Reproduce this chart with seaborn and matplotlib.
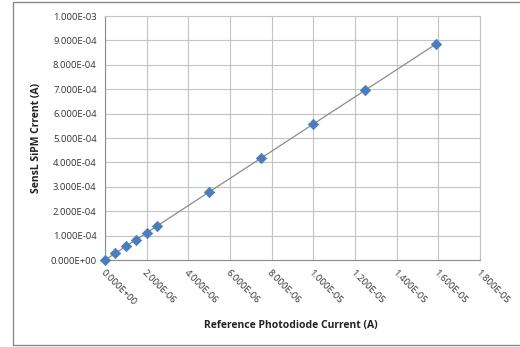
import matplotlib
matplotlib.use("Agg")
import matplotlib.pyplot as plt
import matplotlib.ticker as mticker
from matplotlib.patches import Rectangle
import numpy as np
import pandas as pd
import seaborn as sns

# Photodiode reference current vs. SiPM current (A)
ref_current = [0.0, 0.5e-6, 1.0e-6, 1.5e-6, 2.0e-6, 2.5e-6, 5.0e-6, 7.5e-6, 1.0e-5, 1.25e-5, 1.59e-5]
sipm_current = [0.0, 2.8e-5, 5.6e-5, 8.4e-5, 1.12e-4, 1.4e-4, 2.78e-4, 4.18e-4, 5.57e-4, 6.98e-4, 8.85e-4]

x_ticks = [i * 2e-6 for i in range(10)]
y_ticks = [i * 1e-4 for i in range(11)]

x_label = "Reference Photodiode Current (A)"
y_label = "SensL SiPM Crrent (A)"

df = pd.DataFrame({"ref": ref_current, "sipm": sipm_current})

sns.set_theme(style="white")
plt.rcParams["font.family"] = ["Open Sans", "DejaVu Sans"]

fig = plt.figure(figsize=(5.2, 3.47), dpi=100)
ax = fig.add_axes([105 / 520, 1 - 260 / 347, 375 / 520, 244 / 347])

# linear trendline through the measurements
slope, intercept = np.polyfit(df["ref"], df["sipm"], 1)
xs = np.array([0.0, df["ref"].max()])
ax.plot(xs, slope * xs + intercept, color="#8c8c8c", lw=0.9, zorder=2)

sns.scatterplot(data=df, x="ref", y="sipm", ax=ax, marker="D", s=28,
                color="#4a7ebb", edgecolor="#4a7ebb", linewidth=0.5, zorder=3,
                clip_on=False)

ax.set_xlim(0, 1.8e-5)
ax.set_ylim(0, 1.0e-3)
ax.set_xticks(x_ticks)
ax.set_yticks(y_ticks)
sci = mticker.FuncFormatter(lambda v, p: f"{v:.3E}" if v else "0.000E+00")
ax.xaxis.set_major_formatter(sci)
ax.yaxis.set_major_formatter(sci)

ax.grid(True, color="#c4c4c4", lw=0.8)
ax.set_axisbelow(True)
for s in ax.spines.values():
    s.set_color("#c4c4c4")
    s.set_linewidth(0.8)
ax.spines["left"].set_color("#8c8c8c")
ax.spines["bottom"].set_color("#8c8c8c")

ax.tick_params(axis="both", labelsize=6.8, colors="#333333", pad=3,
               length=3, color="#8c8c8c", direction="out")
for lbl in ax.get_xticklabels():
    lbl.set_rotation(-45)
    lbl.set_ha("left")
    lbl.set_va("top")
    lbl.set_rotation_mode("anchor")

ax.set_xlabel(x_label, fontsize=7.5, fontweight="bold", color="#222222")
ax.set_ylabel(y_label, fontsize=7.5, fontweight="bold", color="#222222")
ax.xaxis.set_label_coords(0.495, -0.245)
ax.yaxis.set_label_coords(-0.168, 0.5)

# chart frame
fig.patches.append(Rectangle((13 / 520, 2 / 347), 1.0, 343 / 347, transform=fig.transFigure,
                             fill=False, edgecolor="#8a8a8a", lw=1.0))

fig.savefig("out.png", dpi=100)
